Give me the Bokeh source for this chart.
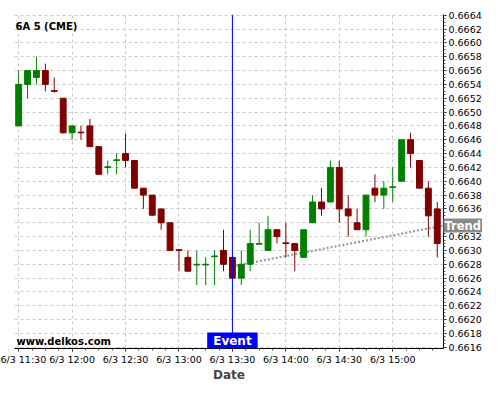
from bokeh.plotting import figure
from bokeh.models import Range1d, FixedTicker, SingleIntervalTicker, PrintfTickFormatter, Span, Label
from bokeh.embed import file_html
from bokeh.resources import INLINE

# ---------------- data ----------------
times = ["11:30", "11:35", "11:40", "11:45", "11:50", "11:55",
         "12:00", "12:05", "12:10", "12:15", "12:20", "12:25",
         "12:30", "12:35", "12:40", "12:45", "12:50", "12:55",
         "13:00", "13:05", "13:10", "13:15", "13:20", "13:25",
         "13:30", "13:35", "13:40", "13:45", "13:50", "13:55",
         "14:00", "14:05", "14:10", "14:15", "14:20", "14:25",
         "14:30", "14:35", "14:40", "14:45", "14:50", "14:55",
         "15:00", "15:05", "15:10", "15:15", "15:20", "15:25"]

opens = [0.6648, 0.6654, 0.66550, 0.6656, 0.66531, 0.6652,
         0.6647, 0.66471, 0.6648, 0.6645, 0.66420, 0.66430,
         0.6644, 0.6643, 0.6639, 0.6638, 0.6636, 0.6634,
         0.66301, 0.6629, 0.66279, 0.66279, 0.66291, 0.6630,
         0.6629, 0.6626, 0.6628, 0.66309, 0.6630, 0.6633,
         0.66311, 0.6631, 0.6629, 0.6634, 0.6637, 0.6637,
         0.6642, 0.6636, 0.6634, 0.6633, 0.6639, 0.6638,
         0.66391, 0.6640, 0.6646, 0.6643, 0.6639, 0.6636]
highs = [0.6656, 0.6656, 0.6658, 0.6657, 0.6655, 0.6652,
         0.6648, 0.6648, 0.6649, 0.6645, 0.6643, 0.6644,
         0.66469, 0.6643, 0.6639, 0.6638, 0.6636, 0.6634,
         0.66302, 0.6630, 0.6630, 0.6629, 0.6630, 0.6633,
         0.6629, 0.6630, 0.6633, 0.6634, 0.6635, 0.6633,
         0.6634, 0.6631, 0.6633, 0.6638, 0.6639, 0.6643,
         0.6643, 0.6638, 0.6636, 0.6638, 0.6641, 0.6640,
         0.6642, 0.6646, 0.6647, 0.6643, 0.6640, 0.6637]
lows = [0.6648, 0.6652, 0.6654, 0.6653, 0.66528, 0.66469,
        0.6646, 0.6646, 0.6645, 0.66409, 0.6641, 0.6641,
        0.6642, 0.66389, 0.6636, 0.6635, 0.6633, 0.6630,
        0.6627, 0.6627, 0.6625, 0.6625, 0.6625, 0.6627,
        0.6626, 0.6625, 0.6627, 0.66309, 0.6630, 0.6631,
        0.6629, 0.6627, 0.6629, 0.6634, 0.6635, 0.6637,
        0.6634, 0.6632, 0.6633, 0.6632, 0.6637, 0.6636,
        0.6637, 0.6640, 0.6642, 0.6639, 0.6632, 0.6629]
closes = [0.6654, 0.6656, 0.6656, 0.6654, 0.66530, 0.6647,
          0.6648, 0.6647, 0.6645, 0.6641, 0.66421, 0.66431,
          0.6643, 0.6639, 0.6638, 0.66351, 0.6634, 0.6630,
          0.66300, 0.6627, 0.6628, 0.6628, 0.66292, 0.6628,
          0.6626, 0.6628, 0.6631, 0.6631, 0.6633, 0.6632,
          0.6631, 0.6630, 0.6633, 0.6637, 0.6636, 0.6642,
          0.6636, 0.6635, 0.6633, 0.6638, 0.6638, 0.6639,
          0.66392, 0.6646, 0.6644, 0.6639, 0.6635, 0.6631]

x_tick_labels = ["6/3 11:30", "6/3 12:00", "6/3 12:30", "6/3 13:00",
                 "6/3 13:30", "6/3 14:00", "6/3 14:30", "6/3 15:00"]

event_time = "13:30"
trend_start = 0.66277   # value at the event time
trend_end = 0.66336     # value at the right edge
x_start_time = "11:27.67"
x_end_time = "15:28.5"
y_min, y_max = 0.661583, 0.666410
title_text = "6A 5 (CME)"
site_text = "www.delkos.com"

# ---------------- helpers ----------------
def to_min(t):
    h, m = t.split(":")
    return int(h) * 60 + float(m)

xs = [to_min(t) for t in times]
tick_pos = [to_min(s.split(" ")[1]) for s in x_tick_labels]
minor_pos = []
for t in tick_pos + [tick_pos[-1] + 30]:
    minor_pos += [t - 30 + 7.5 * k for k in range(4)]
x0, x1 = to_min(x_start_time), to_min(x_end_time)
ev = to_min(event_time)

GREEN = "#008000"
RED = "#800000"
colors = [GREEN if c > o else RED for o, c in zip(opens, closes)]
tops = [max(o, c) for o, c in zip(opens, closes)]
bots = [min(o, c) for o, c in zip(opens, closes)]

FONT = "DejaVu Sans"

p = figure(width=484, height=384, output_backend="svg", toolbar_location=None,
           x_range=Range1d(x0, x1), y_range=Range1d(y_min, y_max),
           y_axis_location="right", min_border_left=14, min_border_top=4,
           min_border_right=0, min_border_bottom=0)
p.outline_line_color = None
p.background_fill_color = "white"
p.border_fill_color = "white"

# grid
p.xgrid.ticker = FixedTicker(ticks=tick_pos)
p.ygrid.ticker = SingleIntervalTicker(interval=0.0002)
for g in (p.xgrid, p.ygrid):
    g.grid_line_color = "#c8c8c8"
    g.grid_line_dash = "3 3"
    g.grid_line_width = 1

# axes
xa = p.xaxis[0]
xa.ticker = FixedTicker(ticks=tick_pos, minor_ticks=minor_pos)
xa.major_label_overrides = {t: s for t, s in zip(tick_pos, x_tick_labels)}
xa.axis_label = "Date"
xa.axis_label_text_font = FONT
xa.axis_label_text_font_style = "bold"
xa.axis_label_text_font_size = "12px"
xa.axis_label_standoff = 0

ya = p.yaxis[0]
ya.ticker = SingleIntervalTicker(interval=0.0002, num_minor_ticks=4)
ya.formatter = PrintfTickFormatter(format="%.4f")

for a in (xa, ya):
    a.axis_line_color = "black"
    a.major_tick_line_color = "black"
    a.minor_tick_line_color = "#555555"
    a.major_tick_out = 3
    a.major_tick_in = 0
    a.minor_tick_out = 2
    a.minor_tick_in = 0
    a.major_label_standoff = 2
    a.major_label_text_font = FONT
    a.major_label_text_font_size = "9.5px"
    a.major_label_text_color = "black"

# trend line (behind candles)
p.line([ev, x1], [trend_start, trend_end], line_color="#9a9a9a", line_width=2.2,
       line_dash="2 2")

# candles
p.segment(xs, highs, xs, lows, line_color=colors, line_width=1)
p.vbar(x=xs, width=3.3, top=tops, bottom=bots, fill_color=colors,
       line_color=colors, line_width=1)

# event line
p.add_layout(Span(location=ev, dimension="height", line_color="#0000ff", line_width=1))

p.add_layout(Label(x=1, y=y_max, x_units="screen", y_offset=-12, text=title_text,
                   text_font=FONT, text_font_style="bold", text_font_size="10px",
                   text_color="black", text_baseline="alphabetic"))
p.add_layout(Label(x=2, y=7, x_units="screen", y_units="screen", text=site_text,
                   text_font=FONT, text_font_style="bold", text_font_size="10px",
                   text_color="black", text_baseline="alphabetic"))
p.add_layout(Label(x=ev, y=0, y_units="screen", text="Event", text_align="center",
                   text_baseline="bottom", text_font=FONT, text_font_style="bold",
                   text_font_size="12px", text_color="white",
                   background_fill_color="#0000ff", padding=(6, 1)))
# placed in a side panel so it is not clipped to the frame and can cover the axis
p.add_layout(Label(x=x1, y=trend_end, x_offset=0, text="Trend", text_align="left",
                   text_baseline="middle", text_font=FONT, text_font_style="bold",
                   text_font_size="11.5px", text_color="white",
                   background_fill_color="#8a8a8a", padding=(1, 0)), "above")

open("out.html", "w").write(file_html(p, INLINE))
